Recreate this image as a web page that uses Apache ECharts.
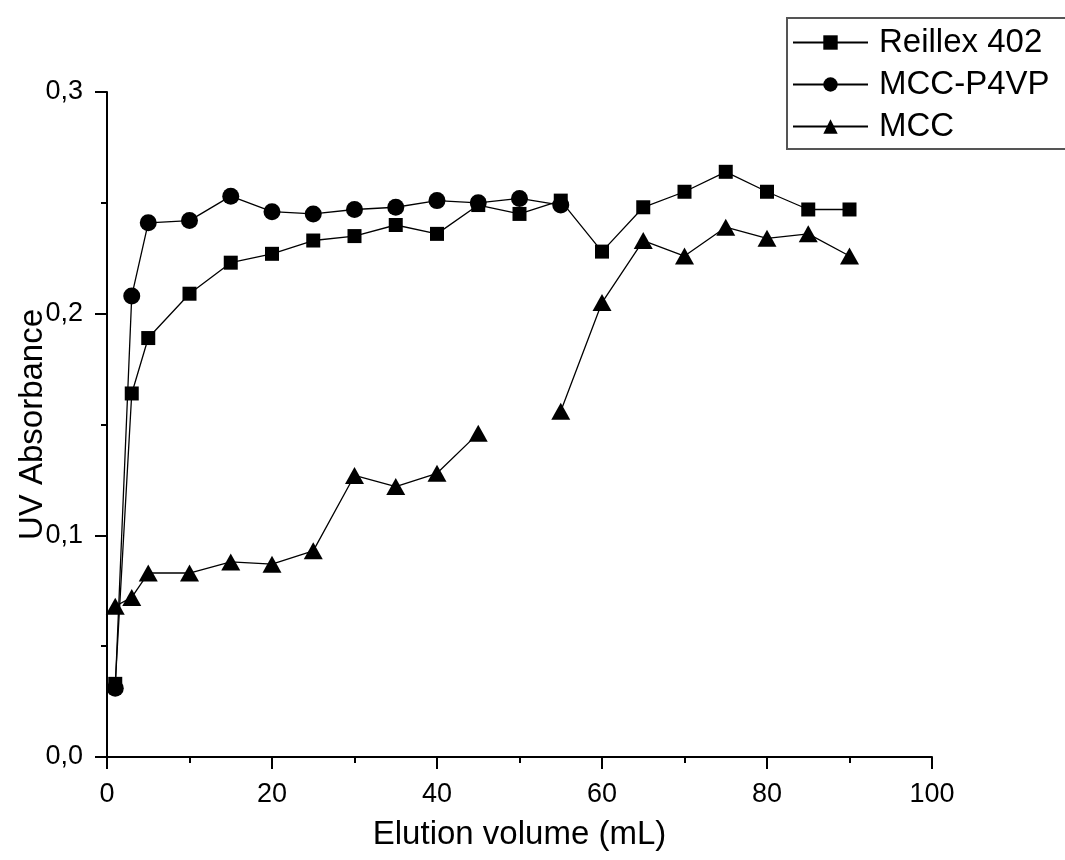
<!DOCTYPE html>
<html>
<head>
<meta charset="utf-8">
<script src="https://cdn.jsdelivr.net/npm/echarts@6/dist/echarts.min.js"></script>
<style>
html,body{margin:0;padding:0;background:#fff;}
#chart{width:1065px;height:860px;}
</style>
</head>
<body>
<div id="chart"></div>
<script>
const xValues = [1, 3, 5, 10, 15, 20, 25, 30, 35, 40, 45, 50, 55, 60, 65, 70, 75, 80, 85, 90];
const reillex = [0.033, 0.164, 0.189, 0.209, 0.223, 0.227, 0.233, 0.235, 0.240, 0.236, 0.249, 0.245, 0.251, 0.228, 0.248, 0.255, 0.264, 0.255, 0.247, 0.247];
const mccP4vp = [0.031, 0.208, 0.241, 0.242, 0.253, 0.246, 0.245, 0.247, 0.248, 0.251, 0.250, 0.252, 0.249, null, null, null, null, null, null, null];
const mcc = [0.068, 0.072, 0.083, 0.083, 0.088, 0.087, 0.093, 0.127, 0.122, 0.128, 0.146, null, 0.156, 0.205, 0.233, 0.226, 0.239, 0.234, 0.236, 0.226];
const seriesNames = ['Reillex 402', 'MCC-P4VP', 'MCC'];

const FONT = '"Liberation Sans", Arial, sans-serif';

function pairs(arr, dropMissing) {
  const out = [];
  arr.forEach((v, i) => {
    if (v === null) { if (!dropMissing) out.push([xValues[i], '-']); }
    else out.push([xValues[i], v]);
  });
  return out;
}

const chart = echarts.init(document.getElementById('chart'), null, {renderer: 'canvas'});

const axisCommon = {
  axisLine: {show: true, onZero: false, lineStyle: {color: '#000', width: 2}},
  axisTick: {show: true, inside: false, length: 12, lineStyle: {color: '#000', width: 2}},
  minorTick: {show: true, splitNumber: 2, length: 6, lineStyle: {color: '#000', width: 2}},
  splitLine: {show: false},
  minorSplitLine: {show: false},
  axisLabel: {color: '#000', fontSize: 27, fontFamily: FONT, margin: 24},
  nameTextStyle: {color: '#000', fontSize: 33, fontFamily: FONT},
  nameMoveOverlap: false
};

const lineCommon = {
  type: 'line',
  connectNulls: false,
  lineStyle: {color: '#000', width: 1.3},
  itemStyle: {color: '#000', borderWidth: 0},
  emphasis: {disabled: true},
  animation: false,
  z: 2
};

chart.setOption({
  backgroundColor: '#fff',
  animation: false,
  grid: {left: 107, right: 133, top: 92, bottom: 103, containLabel: false, outerBoundsMode: 'none'},
  xAxis: Object.assign({}, axisCommon, {
    type: 'value',
    min: 0, max: 100, interval: 20,
    name: 'Elution volume (mL)',
    nameLocation: 'middle',
    nameGap: 61
  }),
  yAxis: Object.assign({}, axisCommon, {
    type: 'value',
    min: 0, max: 0.3, interval: 0.1,
    name: 'UV Absorbance',
    nameLocation: 'middle',
    nameGap: 58,
    axisLabel: Object.assign({}, axisCommon.axisLabel, {
      formatter: v => v.toFixed(1).replace('.', ',')
    })
  }),
  legend: {
    orient: 'vertical',
    left: 787,
    top: 18,
    padding: [8, 30, 6, 5],
    itemGap: 9,
    itemWidth: 75,
    itemHeight: 18,
    borderColor: '#555',
    borderWidth: 2,
    borderRadius: 0,
    backgroundColor: '#fff',
    textStyle: {color: '#000', fontSize: 33, fontFamily: FONT, padding: [0, 0, 0, 6]},
    data: seriesNames,
    selectedMode: false
  },
  series: [
    Object.assign({}, lineCommon, {
      name: seriesNames[0], symbol: 'rect', symbolSize: 14,
      data: pairs(reillex, true)
    }),
    Object.assign({}, lineCommon, {
      name: seriesNames[1], symbol: 'circle', symbolSize: 17,
      data: pairs(mccP4vp, true)
    }),
    Object.assign({}, lineCommon, {
      name: seriesNames[2], symbol: 'triangle', symbolSize: [19, 17],
      data: pairs(mcc, false)
    })
  ]
});
</script>
</body>
</html>
